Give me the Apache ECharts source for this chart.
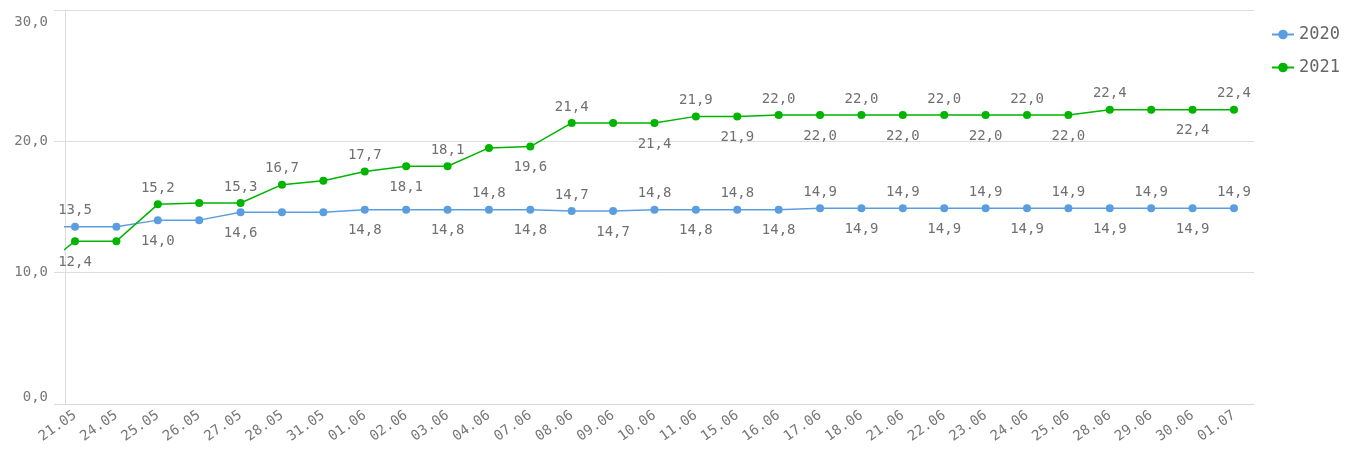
<!DOCTYPE html>
<html>
<head>
<meta charset="utf-8">
<script src="https://cdn.jsdelivr.net/npm/echarts@6/dist/echarts.min.js"></script>
<style>html,body{margin:0;padding:0;background:#fff}#c{width:1347px;height:449px}</style>
</head>
<body>
<div id="c"></div>
<script>
const categories = ['21.05','24.05','25.05','26.05','27.05','28.05','31.05','01.06','02.06','03.06','04.06','07.06','08.06','09.06','10.06','11.06','15.06','16.06','17.06','18.06','21.06','22.06','23.06','24.06','25.06','28.06','29.06','30.06','01.07'];
const seriesNames = ['2020','2021'];
const values2020 = [13.5,13.5,14.0,14.0,14.6,14.6,14.6,14.8,14.8,14.8,14.8,14.8,14.7,14.7,14.8,14.8,14.8,14.8,14.9,14.9,14.9,14.9,14.9,14.9,14.9,14.9,14.9,14.9,14.9];
const values2021 = [12.4,12.4,15.2,15.3,15.3,16.7,17.0,17.7,18.1,18.1,19.5,19.6,21.4,21.4,21.4,21.9,21.9,22.0,22.0,22.0,22.0,22.0,22.0,22.0,22.0,22.4,22.4,22.4,22.4];
// value of the day before the first shown category (line enters from the left edge)
const prev2020 = 13.5;
const prev2021 = 9.9;
const yTicks = [0,10,20,30];

// which points carry a value label, and on which side
const labelSide2020 = ['t','','b','','b','','','b','','b','t','b','t','b','t','b','t','b','t','b','t','b','t','b','t','b','t','b','t'];
const labelSide2021 = ['b','','t','','t','t','','t','b','t','','b','t','','b','t','b','t','b','t','b','t','b','t','b','t','','b','t'];

const FONT = '"DejaVu Sans Mono", monospace';
const fmt = v => v.toFixed(1).replace('.', ',');
const yMax = yTicks[yTicks.length - 1];

function build(values, prev, sides) {
  const data = [{value: [-1, prev], label: {show: false}}];
  values.forEach((v, i) => {
    const s = sides[i];
    const item = {value: [i, v]};
    if (s === 't') item.label = {show: true, position: 'top', distance: 5};
    else if (s === 'b') item.label = {show: true, position: 'bottom', distance: 10};
    else item.label = {show: false};
    data.push(item);
  });
  return data;
}

const chart = echarts.init(document.getElementById('c'), null, {renderer: 'canvas'});
chart.setOption({
  animation: false,
  backgroundColor: '#fff',
  color: ['#5b9ee0', '#00b400'],
  grid: {left: 65, right: 93, top: 10, bottom: 45, containLabel: false},
  legend: {
    orient: 'vertical', left: 1266, top: 21,
    itemWidth: 22, itemHeight: 12, itemGap: 16,
    data: seriesNames,
    textStyle: {fontFamily: FONT, fontSize: 17, color: '#666'}
  },
  xAxis: {
    type: 'value', min: -0.242, max: 28.484,
    axisLine: {show: true, onZero: false, lineStyle: {color: '#d9d9d9'}},
    axisTick: {show: false},
    splitLine: {show: false},
    axisLabel: {
      customValues: categories.map((c, i) => i),
      formatter: v => categories[Math.round(v)] || '',
      rotate: 35, margin: 10,
      fontFamily: FONT, fontSize: 14, color: '#777'
    }
  },
  yAxis: {
    type: 'value', min: yTicks[0], max: yMax, interval: 10,
    axisLine: {show: true, onZero: false, lineStyle: {color: '#ddd'}},
    axisTick: {show: true, length: 11, lineStyle: {color: '#ddd'}},
    splitLine: {show: true, lineStyle: {color: '#ddd'}},
    axisLabel: {
      formatter: v => v === yMax ? '{mx|' + fmt(v) + '}' : fmt(v),
      margin: 17,
      fontFamily: FONT, fontSize: 14, color: '#777',
      rich: {mx: {fontFamily: FONT, fontSize: 14, color: '#777', lineHeight: 24}},
      verticalAlignMinLabel: 'bottom',
      verticalAlignMaxLabel: 'top'
    }
  },
  series: [
    {
      name: seriesNames[0], type: 'line', symbol: 'circle', symbolSize: 8, clip: true,
      lineStyle: {width: 1.5},
      data: build(values2020, prev2020, labelSide2020),
      label: {fontFamily: FONT, fontSize: 14, color: '#707070', formatter: p => fmt(p.value[1])}
    },
    {
      name: seriesNames[1], type: 'line', symbol: 'circle', symbolSize: 8, clip: true,
      lineStyle: {width: 1.5},
      data: build(values2021, prev2021, labelSide2021),
      label: {fontFamily: FONT, fontSize: 14, color: '#707070', formatter: p => fmt(p.value[1])}
    }
  ]
});
</script>
</body>
</html>
